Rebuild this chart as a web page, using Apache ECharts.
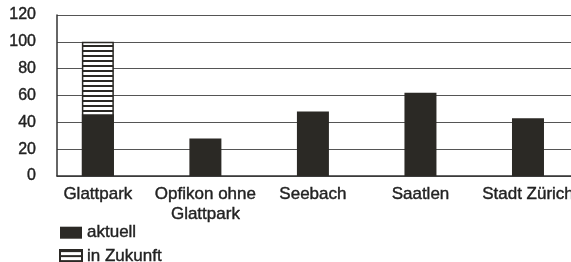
<!DOCTYPE html>
<html>
<head>
<meta charset="utf-8">
<script src="https://cdn.jsdelivr.net/npm/echarts@6/dist/echarts.min.js"></script>
<style>
  html, body { margin: 0; padding: 0; background: #fff; }
  #chart { width: 571px; height: 262px; }
</style>
</head>
<body>
<div id="chart"></div>
<script>
// data
const categories = ['Glattpark', 'Opfikon ohne\nGlattpark', 'Seebach', 'Saatlen', 'Stadt Zürich']
const aktuell = [46, 28, 48, 62, 43]
const zukunft = [100, '-', '-', '-', '-']

const dark = '#2b2925'
const textColor = '#222'
const font = '"Liberation Sans", Arial, sans-serif'

// horizontal stripes for "in Zukunft"
const stripe = document.createElement('canvas')
stripe.width = 4
stripe.height = 5
const ctx = stripe.getContext('2d')
ctx.fillStyle = '#fff'
ctx.fillRect(0, 0, 4, 5)
ctx.fillStyle = dark
ctx.fillRect(0, 0, 4, 2)

const positions = categories.map((c, i) => i)

const chart = echarts.init(document.getElementById('chart'), null, {renderer: 'canvas'})

const option = {
  animation: false,
  grid: {left: 57, right: 0, top: 15, bottom: 86, outerBoundsMode: 'none', containLabel: false},
  legend: {
    orient: 'vertical',
    left: 59,
    top: 224,
    height: 60,
    padding: 0,
    itemWidth: 22,
    itemHeight: 12,
    itemGap: 6,
    icon: 'rect',
    textStyle: {
      fontFamily: font, fontSize: 17, lineHeight: 17, color: textColor,
      textBorderColor: textColor, textBorderWidth: 0.4
    },
    data: ['aktuell', 'in Zukunft']
  },
  xAxis: {
    type: 'value',
    min: -0.38,
    max: 4.4,
    axisLine: {show: true, onZero: false, lineStyle: {color: '#333', width: 1.5}},
    axisTick: {show: false},
    splitLine: {show: false},
    axisLabel: {
      customValues: positions,
      formatter: v => categories[Math.round(v)],
      fontFamily: font,
      fontSize: 17,
      color: textColor,
      textBorderColor: textColor,
      textBorderWidth: 0.4,
      lineHeight: 20,
      margin: 8,
      hideOverlap: false
    }
  },
  yAxis: {
    type: 'value',
    min: 0,
    max: 120,
    interval: 20,
    axisLine: {show: true, onZero: false, lineStyle: {color: '#333', width: 1.5}},
    axisTick: {show: false},
    splitLine: {lineStyle: {color: '#555', width: 1.2}},
    axisLabel: {
      fontFamily: font, fontSize: 16, color: textColor,
      textBorderColor: textColor, textBorderWidth: 0.4, margin: 21
    }
  },
  series: [
    {
      name: 'in Zukunft',
      type: 'bar',
      barWidth: 32,
      barGap: '-100%',
      itemStyle: {
        color: {image: stripe, repeat: 'repeat'},
        borderColor: dark,
        borderWidth: 1.5
      },
      data: zukunft.map((v, i) => [positions[i], v])
    },
    {
      name: 'aktuell',
      type: 'bar',
      barWidth: 32,
      barGap: '-100%',
      itemStyle: {color: dark},
      data: aktuell.map((v, i) => [positions[i], v])
    }
  ]
}

chart.setOption(option)
</script>
</body>
</html>
